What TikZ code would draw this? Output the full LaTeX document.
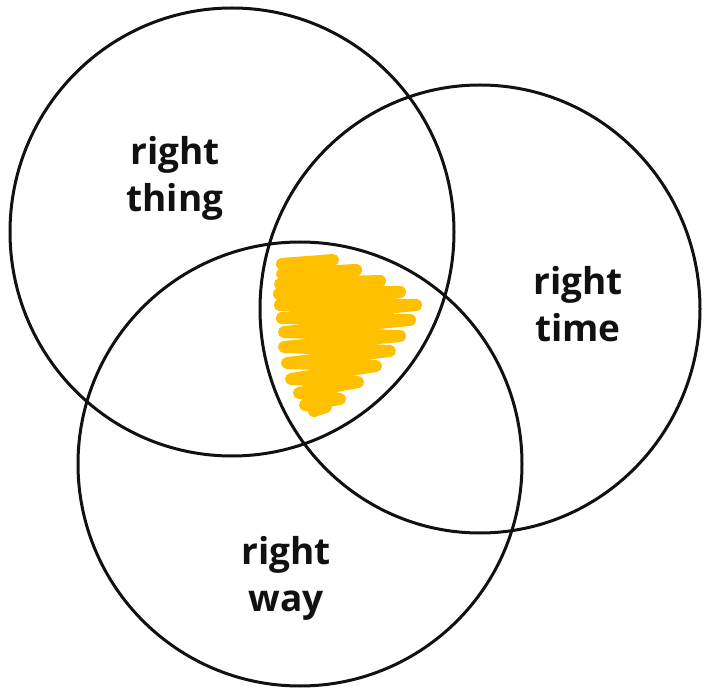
\documentclass[tikz,border=0pt]{standalone}
\usepackage{fontspec}
\setmainfont{Open Sans}
\usepackage{tikz}
\definecolor{Ink}     {HTML}{111111}
\definecolor{Marigold}{HTML}{FFC000}

\begin{document}
\begin{tikzpicture}[x=1pt, y=-1pt,
    ring/.style={draw=Ink, line width=3pt},
    tag/.style={font=\fontsize{37}{47}\selectfont\bfseries, align=center,
                text=Ink, inner sep=0pt},
    scribble/.style={draw=Marigold, line width=12pt, line cap=round,
                     line join=round}]
  \useasboundingbox (0,0) rectangle (707,692);
  % Highlight (where all three meet)
  \draw[scribble] (282,264) -- (333,260) -- (282,274) -- (356,270)
    -- (280,284) -- (380,281) -- (279,294) -- (400,292) -- (280,305)
    -- (416,305) -- (282,318) -- (410,320) -- (284,332) -- (400,336)
    -- (284,347) -- (390,351) -- (287,363) -- (376,366) -- (291,379)
    -- (358,382) -- (299,393) -- (340,399) -- (305,405) -- (326,407)
    -- (314,411);
  % Circles
  \draw[ring] (232,232) ellipse [x radius=222pt, y radius=224pt];
  \draw[ring] (480,309) ellipse [x radius=220pt, y radius=224pt];
  \draw[ring] (300,464) ellipse [x radius=222pt, y radius=222pt];
  % Labels
  \node[tag] (thing) at (175,178) {right\\thing};
  \node[tag] (time)  at (578,304) {right\\time};
  \node[tag] (way)   at (286,578) {right\\way};
\end{tikzpicture}
\end{document}
